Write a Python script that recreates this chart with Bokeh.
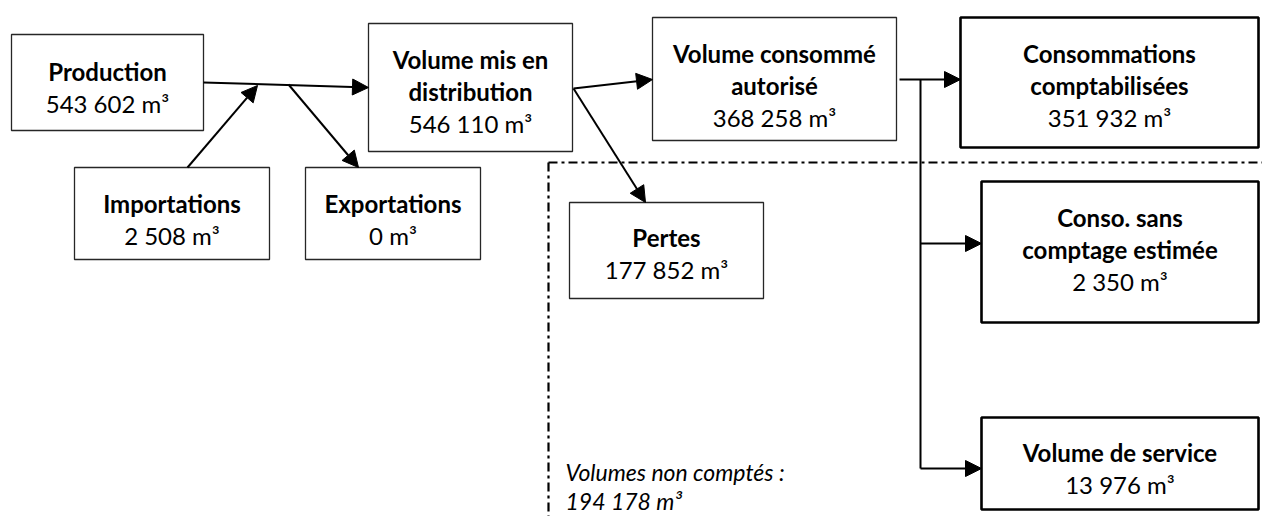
from bokeh.plotting import figure
from bokeh.models import Range1d, ColumnDataSource, Arrow, NormalHead
from bokeh.embed import file_html
from bokeh.resources import INLINE
from bokeh.core.properties import value

# ---------------- data ----------------
stages = ["Production", "Importations", "Exportations", "Volume mis en distribution",
          "Volume consommé autorisé", "Pertes", "Consommations comptabilisées",
          "Conso. sans comptage estimée", "Volume de service"]
volumes_m3 = [543602, 2508, 0, 546110, 368258, 177852, 351932, 2350, 13976]
unmetered_label = "Volumes non comptés :"
unmetered_m3 = 194178

# ---------------- layout (page pixels) ----------------
wrap_after = [0, 0, 0, 3, 2, 0, 1, 2, 0]          # words on first title line (0 = no wrap)
box_left = [11, 74, 305, 368, 652, 569, 960, 981, 981]
box_top = [34, 167, 167, 23, 17, 202, 17, 181, 417]
box_right = [203, 269, 480, 572, 896, 763, 1258, 1258, 1258]
box_bottom = [130, 259, 259, 151, 140, 298, 147, 322, 509]
box_thick = [False, False, False, False, False, False, True, True, True]
first_baseline = [71, 203, 203, 59, 53, 237, 53, 217, 452]
LINE_GAP = 32

arrow_x0 = [203, 187, 288, 573, 573, 899, 920, 920]
arrow_y0 = [82, 167, 84, 88, 88, 79, 243, 468]
arrow_x1 = [368, 257, 358, 652, 645, 960, 981, 981]
arrow_y1 = [87, 85, 167, 79, 202, 79, 243, 468]
trunk_x = [920]
trunk_y0 = [79]
trunk_y1 = [468]


def fmt(v):
    return f"{v:,}".replace(",", " ") + " m³"


W, H = 1262, 516
p = figure(width=W, height=H, x_range=Range1d(0, W), y_range=Range1d(H, 0),
           output_backend="svg", toolbar_location=None, min_border=0)
p.axis.visible = False
p.grid.visible = False
p.outline_line_color = None
p.background_fill_color = "white"
p.border_fill_color = "white"

# dash-dot boundary of non-metered volumes
p.segment(x0=[548, 548], y0=[162, 162], x1=[1275, 548], y1=[162, 530],
          line_color="black", line_width=2.2, line_dash="9 4 3 4")

# boxes
thin = [i for i in range(len(stages)) if not box_thick[i]]
thick = [i for i in range(len(stages)) if box_thick[i]]
for idx, lw, col in ((thin, 1.3, "#262626"), (thick, 2.6, "black")):
    p.quad(left=[box_left[i] for i in idx], right=[box_right[i] for i in idx],
           top=[box_top[i] for i in idx], bottom=[box_bottom[i] for i in idx],
           fill_color="white", line_color=col, line_width=lw)

# lines and arrows
p.segment(x0=trunk_x, y0=trunk_y0, x1=trunk_x, y1=trunk_y1, line_color="black", line_width=2)
asrc = ColumnDataSource(dict(x0=arrow_x0, y0=arrow_y0, x1=arrow_x1, y1=arrow_y1))
p.add_layout(Arrow(end=NormalHead(size=16, fill_color="black", line_color="black", line_width=1),
                   x_start="x0", y_start="y0", x_end="x1", y_end="y1",
                   source=asrc, line_color="black", line_width=2))

# texts
bx, by, bt = [], [], []
nx, ny, nt = [], [], []
for i, name in enumerate(stages):
    cx = (box_left[i] + box_right[i]) / 2
    words = name.split(" ")
    lines = [name] if wrap_after[i] == 0 else [" ".join(words[:wrap_after[i]]),
                                                " ".join(words[wrap_after[i]:])]
    y = first_baseline[i]
    for ln in lines:
        bx.append(cx); by.append(y); bt.append(ln)
        y += LINE_GAP
    nx.append(cx); ny.append(y); nt.append(fmt(volumes_m3[i]))

p.text(x=bx, y=by, text=bt, text_font=value("Lato"), text_font_style="bold",
       text_font_size="24px", text_align="center", text_baseline="alphabetic", text_color="black")
p.text(x=nx, y=ny, text=nt, text_font=value("Lato"),
       text_font_size="24px", text_align="center", text_baseline="alphabetic", text_color="black")
p.text(x=[565, 565], y=[471, 500], text=[unmetered_label, fmt(unmetered_m3)],
       text_font=value("Lato"), text_font_style="italic", text_font_size="23px",
       text_align="left", text_baseline="alphabetic", text_color="black")

open("out.html", "w").write(file_html(p, INLINE))
